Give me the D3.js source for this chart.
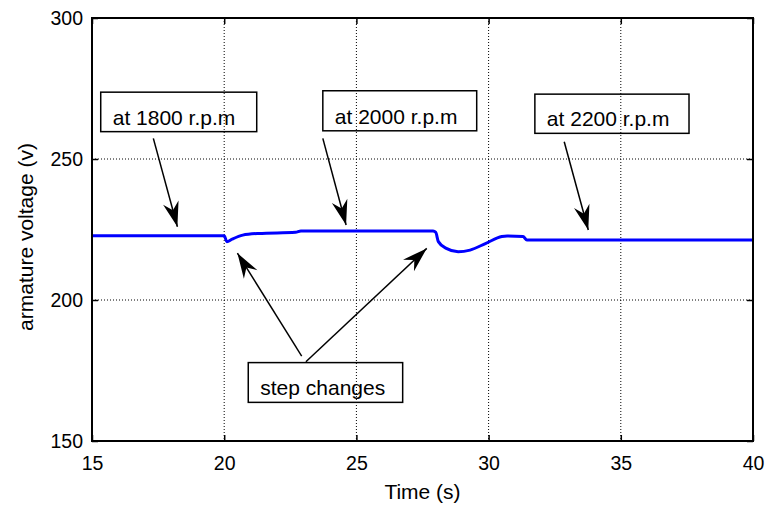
<!DOCTYPE html>
<html>
<head>
<meta charset="utf-8">
<script src="https://cdn.jsdelivr.net/npm/d3@7"></script>
<style>
  body { margin: 0; background: #fff; }
  svg { display: block; font-family: "Liberation Sans", Arial, sans-serif; }
</style>
</head>
<body>
<div class="graph"></div>
<script>
// time (s) and armature voltage (v)
var time    = [15, 20.0, 20.1, 20.3, 20.7, 21.3, 22.7, 22.9, 27.9, 28.0, 28.1, 28.4, 28.85, 29.3, 29.9, 30.5, 30.7, 31.3, 31.45, 40];
var voltage = [222.8, 222.8, 220.7, 221.6, 223.0, 223.6, 224.0, 224.5, 224.5, 224.0, 220.7, 218.3, 217.1, 217.7, 220.1, 222.5, 222.7, 222.5, 221.3, 221.3];

var xTicks = [15, 20, 25, 30, 35, 40];
var yTicks = [150, 200, 250, 300];

// text boxes, in data units (t0..t1, v0..v1)
var boxTexts = ["at 1800 r.p.m", "at 2000 r.p.m", "at 2200 r.p.m", "step changes"];
var boxT = [[15.33, 21.23], [23.73, 29.55], [31.75, 37.58], [20.91, 26.75]];
var boxV = [[273.7, 259.7], [274.2, 260.0], [273.0, 259.1], [177.8, 163.7]];

// arrows: [tFrom, vFrom, tTo, vTo]
var arrows = [
  [17.32, 257.3, 18.23, 226.0],
  [23.73, 257.3, 24.61, 226.6],
  [32.86, 256.1, 33.77, 224.8],
  [22.93, 180.1, 20.50, 216.6],
  [23.09, 178.1, 27.66, 218.3]
];

var W = 768, H = 505;
var margin = {top: 18, right: 15, bottom: 64, left: 92};
var width = W - margin.left - margin.right;   // 661
var height = H - margin.top - margin.bottom;  // 423

var x = d3.scaleLinear().domain([15, 40]).range([0, width]);
var y = d3.scaleLinear().domain([150, 300]).range([height, 0]);

var svg = d3.select(".graph").append("svg")
    .attr("width", W)
    .attr("height", H);

var defs = svg.append("defs");
defs.append("marker")
    .attr("id", "head")
    .attr("viewBox", "-26 -9 27 18")
    .attr("refX", 0).attr("refY", 0)
    .attr("markerWidth", 27).attr("markerHeight", 18)
    .attr("markerUnits", "userSpaceOnUse")
    .attr("orient", "auto")
  .append("path")
    .attr("d", "M0,0 L-25,-8 L-17,0 L-25,8 Z")
    .attr("fill", "#000");

var g = svg.append("g")
    .attr("transform", "translate(" + margin.left + "," + margin.top + ")");

// dotted grid
g.selectAll(".vgrid").data(xTicks.slice(1, -1)).enter().append("line")
    .attr("x1", d => x(d)).attr("x2", d => x(d))
    .attr("y1", 0).attr("y2", height)
    .attr("stroke", "#000").attr("stroke-width", 1)
    .attr("stroke-dasharray", "1,2");
g.selectAll(".hgrid").data(yTicks.slice(1, -1)).enter().append("line")
    .attr("x1", 0).attr("x2", width)
    .attr("y1", d => y(d)).attr("y2", d => y(d))
    .attr("stroke", "#000").attr("stroke-width", 1)
    .attr("stroke-dasharray", "1,2");

// axes, ticks point inward on all four sides
function styleAxis(sel) {
  sel.select(".domain").remove();
  sel.selectAll(".tick line").attr("stroke", "#000").attr("stroke-width", 1.5);
  sel.selectAll(".tick text").attr("fill", "#000").style("font-size", "19.5px");
}

g.append("g")
    .attr("transform", "translate(0," + height + ")")
    .call(d3.axisBottom(x).tickValues(xTicks).tickSizeInner(-6).tickSizeOuter(0).tickPadding(15))
    .call(styleAxis);
g.append("g")
    .call(d3.axisTop(x).tickValues(xTicks).tickSizeInner(-6).tickSizeOuter(0).tickFormat(""))
    .call(styleAxis);
g.append("g")
    .call(d3.axisLeft(y).tickValues(yTicks).tickSizeInner(-6).tickSizeOuter(0).tickPadding(9))
    .call(styleAxis);
g.append("g")
    .attr("transform", "translate(" + width + ",0)")
    .call(d3.axisRight(y).tickValues(yTicks).tickSizeInner(-6).tickSizeOuter(0).tickFormat(""))
    .call(styleAxis);

// the curve
var pts = time.map((t, i) => [t, voltage[i]]);
g.append("path")
    .datum(pts)
    .attr("fill", "none")
    .attr("stroke", "#0000ff")
    .attr("stroke-width", 3)
    .attr("stroke-linejoin", "round")
    .attr("d", d3.line().x(d => x(d[0])).y(d => y(d[1])).curve(d3.curveMonotoneX));

// plot box
g.append("rect")
    .attr("x", 0).attr("y", 0)
    .attr("width", width).attr("height", height)
    .attr("fill", "none").attr("stroke", "#000").attr("stroke-width", 2);

// annotation boxes (transparent, grid shows through)
boxTexts.forEach(function(txt, i) {
  var x0 = x(boxT[i][0]), x1 = x(boxT[i][1]);
  var y0 = y(boxV[i][0]), y1 = y(boxV[i][1]);
  g.append("rect")
      .attr("x", x0).attr("y", y0)
      .attr("width", x1 - x0).attr("height", y1 - y0)
      .attr("fill", "none").attr("stroke", "#000").attr("stroke-width", 1.5);
  g.append("text")
      .attr("x", x0 + 12).attr("y", y1 - 7)
      .style("font-size", "21px")
      .text(txt);
});

// arrows
g.selectAll(".arrow").data(arrows).enter().append("line")
    .attr("x1", d => x(d[0])).attr("y1", d => y(d[1]))
    .attr("x2", d => x(d[2])).attr("y2", d => y(d[3]))
    .attr("stroke", "#000").attr("stroke-width", 1.5)
    .attr("marker-end", "url(#head)");

// axis titles
svg.append("text")
    .attr("x", margin.left + width / 2)
    .attr("y", 499)
    .attr("text-anchor", "middle")
    .style("font-size", "21px")
    .text("Time (s)");

svg.append("text")
    .attr("transform", "translate(33,237) rotate(-90)")
    .attr("text-anchor", "middle")
    .style("font-size", "21px")
    .text("armature voltage (v)");
</script>
</body>
</html>
